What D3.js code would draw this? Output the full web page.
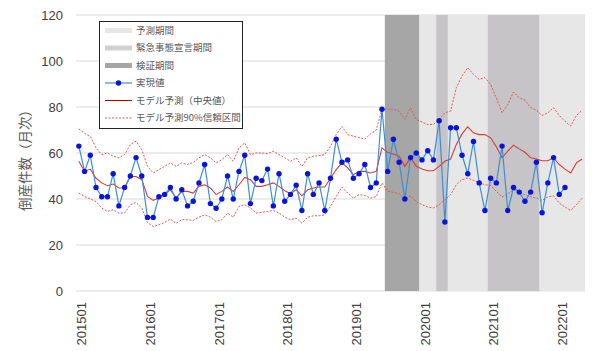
<!DOCTYPE html>
<html>
<head>
<meta charset="utf-8">
<script src="https://cdn.jsdelivr.net/npm/d3@7"></script>
<style>
  body { margin: 0; background: #fff; }
  svg { display: block; }
</style>
</head>
<body>
<svg id="chart" width="600" height="351"></svg>
<script>
// months 201501 .. 202205
const months = [];
for (let y = 2015; y <= 2022; y++) {
    for (let m = 1; m <= 12; m++) {
        const k = y * 100 + m;
        if (k <= 202205) months.push(String(k));
    }
}
const tickLabels = ["201501", "201601", "201701", "201801", "201901", "202001", "202101", "202201"];

// shaded periods [first month, last month]
const forecastPeriod = [["202001", "202205"]];
const emergencyPeriods = [["202004", "202005"], ["202101", "202109"]];
const validationPeriod = [["201907", "201912"]];

// 実現値 201501 .. 202202
const actual = [
    63, 52, 59, 45, 41, 41, 51, 37, 45, 50, 58, 50,
    32, 32, 41, 42, 45, 40, 44, 37, 39, 47, 55, 38,
    36, 40, 50, 40, 52, 59, 38, 49, 48, 53, 37, 51,
    39, 42, 46, 35, 51, 42, 47, 35, 49, 66, 56, 57,
    49, 51, 55, 45, 47, 79, 52, 66, 56, 40, 58, 60,
    57, 61, 57, 74, 30, 71, 71, 59, 51, 65, 47, 35,
    49, 47, 63, 35, 45, 43, 39, 43, 56, 34, 47, 58,
    42, 45
];

// モデル予測（中央値） 201501 .. 202205
const median = [
    56.4, 52.0, 53.0, 49.0, 47.0, 45.8, 46.5, 44.8, 44.8, 49.8, 49.8, 48.4,
    41.1, 39.4, 40.4, 41.9, 44.0, 40.4, 43.3, 43.3, 42.6, 45.5, 46.2, 44.8,
    41.9, 43.3, 45.2, 43.3, 46.2, 49.4, 48.4, 45.5, 45.5, 46.2, 47.0, 45.5,
    43.6, 42.3, 44.0, 41.4, 44.0, 44.8, 45.2, 45.2, 49.0, 52.8, 55.7, 53.5,
    50.6, 52.0, 52.0, 51.3, 52.0, 62.2, 60.2, 59.6, 58.6, 54.2, 57.9, 54.2,
    53.0, 52.3, 52.3, 54.2, 56.4, 57.4, 63.7, 68.3, 71.4, 68.8, 68.0, 68.0,
    66.6, 62.7, 57.9, 60.8, 63.4, 61.8, 60.3, 57.9, 57.4, 56.6, 56.6, 57.9,
    55.0, 53.0, 51.3, 55.7, 57.4
];

// モデル予測90%信頼区間 上限
const upper = [
    70.5, 68.5, 67.3, 62.2, 59.3, 60.0, 58.6, 57.9, 59.3, 63.7, 65.1, 61.5,
    54.2, 51.3, 52.8, 54.2, 55.7, 54.2, 55.7, 55.0, 55.9, 57.9, 59.3, 57.9,
    55.7, 57.1, 59.3, 56.4, 62.2, 64.4, 59.3, 60.0, 60.0, 59.7, 60.8, 59.3,
    57.9, 56.4, 57.9, 54.2, 57.9, 58.6, 58.9, 59.3, 62.9, 68.0, 71.5, 68.0,
    67.3, 66.7, 66.0, 68.3, 70.0, 79.0, 79.0, 79.0, 78.2, 74.6, 79.7, 74.6,
    73.4, 72.4, 72.4, 74.6, 77.5, 78.2, 88.4, 93.5, 97.1, 94.2, 92.0, 92.8,
    89.8, 84.0, 77.5, 81.1, 86.5, 84.0, 83.0, 79.7, 78.6, 76.3, 77.5, 79.7,
    76.3, 73.8, 71.7, 76.3, 78.6
];

// モデル予測90%信頼区間 下限
const lower = [
    42.6, 41.1, 40.0, 38.9, 36.1, 34.6, 35.3, 33.9, 33.9, 37.5, 38.5, 36.1,
    29.8, 28.0, 28.8, 29.8, 31.3, 29.4, 31.0, 31.0, 30.7, 32.1, 33.1, 32.1,
    30.2, 31.0, 33.9, 32.1, 36.8, 37.5, 36.1, 33.9, 34.2, 34.6, 35.0, 33.9,
    32.1, 31.0, 31.7, 29.5, 32.1, 32.7, 32.7, 33.1, 36.8, 41.1, 45.2, 42.6,
    40.4, 41.9, 41.5, 40.4, 41.1, 47.0, 43.3, 42.9, 42.3, 39.7, 41.4, 38.9,
    37.5, 36.5, 36.1, 37.5, 39.7, 41.9, 46.2, 48.4, 49.1, 48.1, 47.2, 46.2,
    45.8, 43.3, 40.9, 42.3, 44.0, 42.9, 41.9, 40.9, 40.4, 39.4, 40.9, 41.4,
    38.2, 36.5, 35.0, 37.5, 40.4
];

const yTicks = [0, 20, 40, 60, 80, 100, 120];

const svg = d3.select("#chart");
const font = "'Liberation Sans', Arial, sans-serif";
const jpFont = "'Noto Sans CJK JP', sans-serif";

const x = d3.scaleBand().domain(months).range([76, 585]).padding(0);
const y = d3.scaleLinear().domain([0, 120]).range([291, 15]);
const cx = d => x(d) + x.bandwidth() / 2;

// gridlines
svg.append("g")
    .selectAll("line")
    .data(yTicks)
    .join("line")
    .attr("x1", 76).attr("x2", 585)
    .attr("y1", d => y(d)).attr("y2", d => y(d))
    .attr("stroke", "#d9d9d9")
    .attr("stroke-width", 1);

// shaded periods
function drawBands(periods, color) {
    svg.append("g")
        .selectAll("rect")
        .data(periods)
        .join("rect")
        .attr("x", d => x(d[0]))
        .attr("width", d => x(d[1]) + x.bandwidth() - x(d[0]))
        .attr("y", y(120))
        .attr("height", y(0) - y(120))
        .attr("fill", color);
}
drawBands(forecastPeriod, "#e7e7e7");
drawBands(emergencyPeriods, "#c6c4c6");
drawBands(validationPeriod, "#a6a6a6");

// y axis labels
svg.append("g")
    .selectAll("text")
    .data(yTicks)
    .join("text")
    .attr("x", 63)
    .attr("y", d => y(d))
    .attr("dy", "0.35em")
    .attr("text-anchor", "end")
    .attr("font-family", font)
    .attr("font-size", 13)
    .attr("fill", "#404040")
    .text(d => d);

// x axis labels
svg.append("g")
    .selectAll("text")
    .data(tickLabels)
    .join("text")
    .attr("transform", d => `translate(${cx(d) + 3},302) rotate(-90)`)
    .attr("dy", "0.35em")
    .attr("text-anchor", "end")
    .attr("font-family", font)
    .attr("font-size", 13)
    .attr("fill", "#404040")
    .text(d => d);

// y axis title
svg.append("text")
    .attr("transform", "translate(25,157) rotate(-90)")
    .attr("dy", "0.35em")
    .attr("text-anchor", "middle")
    .attr("font-family", jpFont)
    .attr("font-size", 13.5)
    .attr("fill", "#595959")
    .text("倒産件数（月次）");

// model lines
const line = d3.line()
    .x((d, i) => cx(months[i]))
    .y(d => y(d));

svg.append("path").datum(upper)
    .attr("fill", "none").attr("stroke", "#e05858")
    .attr("stroke-width", 1).attr("stroke-dasharray", "2,1.5")
    .attr("d", line);
svg.append("path").datum(lower)
    .attr("fill", "none").attr("stroke", "#e05858")
    .attr("stroke-width", 1).attr("stroke-dasharray", "2,1.5")
    .attr("d", line);
svg.append("path").datum(median)
    .attr("fill", "none").attr("stroke", "#d63c3c")
    .attr("stroke-width", 1.1)
    .attr("d", line);

// actual
svg.append("path").datum(actual)
    .attr("fill", "none").attr("stroke", "#3b8fd3")
    .attr("stroke-width", 1.2)
    .attr("d", line);
svg.append("g")
    .selectAll("circle")
    .data(actual)
    .join("circle")
    .attr("cx", (d, i) => cx(months[i]))
    .attr("cy", d => y(d))
    .attr("r", 2.7)
    .attr("fill", "#0a14d8");

// legend
const lg = svg.append("g");
lg.append("rect")
    .attr("x", 99.5).attr("y", 21.5)
    .attr("width", 143).attr("height", 107)
    .attr("fill", "#fff").attr("stroke", "#222").attr("stroke-width", 1);

const legendItems = [
    { label: "予測期間", type: "band", color: "#e7e7e7" },
    { label: "緊急事態宣言期間", type: "band", color: "#d2d0d2" },
    { label: "検証期間", type: "band", color: "#a6a6a6" },
    { label: "実現値", type: "marker" },
    { label: "モデル予測（中央値）", type: "solid" },
    { label: "モデル予測90%信頼区間", type: "dotted" }
];
legendItems.forEach((d, i) => {
    const ly = 30.5 + i * 17.5;
    if (d.type === "band") {
        lg.append("rect").attr("x", 105).attr("y", ly - 2.5)
            .attr("width", 27).attr("height", 5).attr("fill", d.color);
    } else if (d.type === "marker") {
        lg.append("line").attr("x1", 105).attr("x2", 132).attr("y1", ly).attr("y2", ly)
            .attr("stroke", "#3b8fd3").attr("stroke-width", 1.2);
        lg.append("circle").attr("cx", 118.5).attr("cy", ly).attr("r", 2.7).attr("fill", "#0a14d8");
    } else {
        const l = lg.append("line").attr("x1", 105).attr("x2", 132).attr("y1", ly).attr("y2", ly)
            .attr("stroke", d.type === "solid" ? "#c00000" : "#e05858").attr("stroke-width", 1.1);
        if (d.type === "dotted") l.attr("stroke-dasharray", "2,1.5");
    }
    lg.append("text")
        .attr("x", 136).attr("y", ly)
        .attr("dy", "0.35em")
        .attr("font-family", jpFont)
        .attr("font-size", 9.5)
        .attr("fill", "#595959")
        .text(d.label);
});
</script>
</body>
</html>
